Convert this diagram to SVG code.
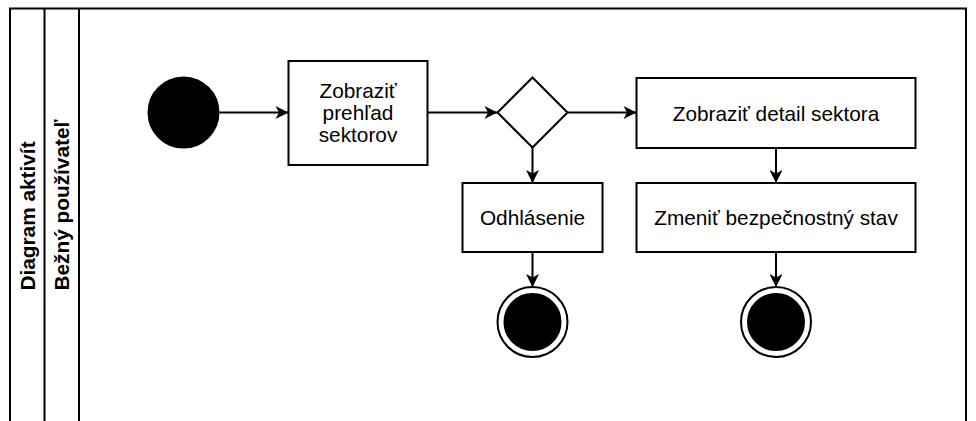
<svg xmlns="http://www.w3.org/2000/svg" width="976" height="421" viewBox="0 0 976 421">
  <style>
    .frame { fill: none; stroke: #000; stroke-width: 2; }
    .box { fill: #fff; stroke: #000; stroke-width: 2; }
    .dot { fill: #000; stroke: #000; stroke-width: 2; }
    .ring { fill: #fff; stroke: #000; stroke-width: 2; }
    .edge { fill: none; stroke: #000; stroke-width: 2; }
    .lbl { font-family: "Liberation Sans", Arial, sans-serif; font-size: 20.8px; fill: #000; text-anchor: middle; }
    .lane { font-family: "Liberation Sans", Arial, sans-serif; font-size: 20.8px; font-weight: bold; fill: #000; text-anchor: middle; }
  </style>
  <defs>
    <marker id="arrow" markerUnits="userSpaceOnUse" markerWidth="16" markerHeight="16" refX="14" refY="7" orient="auto" viewBox="0 0 16 14">
      <path d="M14,7 L1,0.5 L4.5,7 L1,13.5 Z" fill="#000"/>
    </marker>
  </defs>

  <!-- pool and lane frame -->
  <g id="pool">
    <path class="frame" d="M10,421 V8.5 H966 V421"/>
    <line class="frame" x1="44.5" y1="8.5" x2="44.5" y2="421"/>
    <line class="frame" x1="79" y1="8.5" x2="79" y2="421"/>
    <text class="lane" transform="translate(34.5,216) rotate(-90)">Diagram aktivít</text>
    <text class="lane" transform="translate(69,205) rotate(-90)">Bežný používateľ</text>
  </g>

  <!-- connectors -->
  <g id="connectors">
    <line class="edge" x1="219.5" y1="112.5" x2="288.5" y2="112.5" marker-end="url(#arrow)"/>
    <line class="edge" x1="427.5" y1="112.5" x2="497.5" y2="112.5" marker-end="url(#arrow)"/>
    <line class="edge" x1="567.5" y1="112.5" x2="636.5" y2="112.5" marker-end="url(#arrow)"/>
    <line class="edge" x1="532.5" y1="147.5" x2="532.5" y2="183" marker-end="url(#arrow)"/>
    <line class="edge" x1="776" y1="148" x2="776" y2="183" marker-end="url(#arrow)"/>
    <line class="edge" x1="532.5" y1="252" x2="532.5" y2="287" marker-end="url(#arrow)"/>
    <line class="edge" x1="776" y1="252" x2="776" y2="287" marker-end="url(#arrow)"/>
  </g>

  <g id="start">
    <circle class="dot" cx="183.5" cy="112.5" r="35"/>
  </g>

  <g id="overview">
    <rect class="box" x="288.5" y="61" width="139" height="104"/>
    <text class="lbl" x="358" y="97.5">Zobraziť</text>
    <text class="lbl" x="358" y="119.7">prehľad</text>
    <text class="lbl" x="358" y="142">sektorov</text>
  </g>

  <g id="decision">
    <polygon class="box" points="532.5,77.5 567.5,112.5 532.5,147.5 497.5,112.5"/>
  </g>

  <g id="detail">
    <rect class="box" x="636.5" y="78" width="279" height="70"/>
    <text class="lbl" x="776" y="120.5">Zobraziť detail sektora</text>
  </g>

  <g id="logout">
    <rect class="box" x="462.5" y="183" width="140" height="69"/>
    <text class="lbl" x="532.5" y="225">Odhlásenie</text>
  </g>

  <g id="change">
    <rect class="box" x="636.5" y="183" width="279" height="69"/>
    <text class="lbl" x="776" y="225">Zmeniť bezpečnostný stav</text>
  </g>

  <g id="end-logout">
    <circle class="ring" cx="532.5" cy="322" r="35"/>
    <circle class="dot" cx="532.5" cy="322" r="28"/>
  </g>

  <g id="end-change">
    <circle class="ring" cx="776" cy="322" r="35"/>
    <circle class="dot" cx="776" cy="322" r="28"/>
  </g>
</svg>
